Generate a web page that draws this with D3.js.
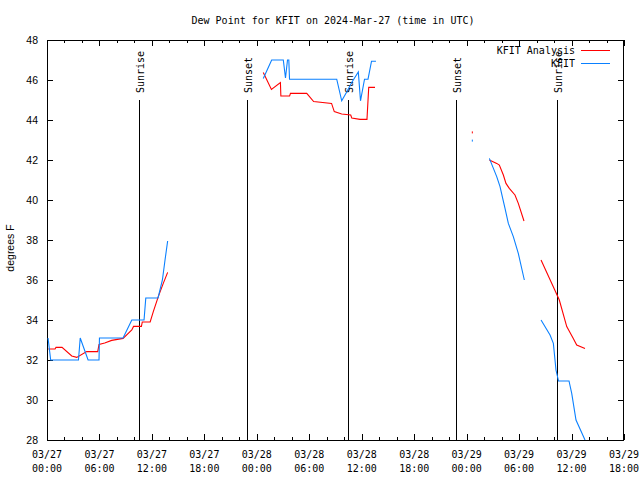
<!DOCTYPE html>
<html><head><meta charset="utf-8">
<script src="https://cdn.jsdelivr.net/npm/d3@7"></script>
<style>body{margin:0;background:#fff}</style>
</head><body>
<script>
// ---------- data ----------
const chartTitle = "Dew Point for KFIT on 2024-Mar-27 (time in UTC)";
const yAxisLabel = "degrees F";
const startUtc = Date.UTC(2024, 2, 27, 0, 0);
const spanHours = 66;
const yTicks = [28, 30, 32, 34, 36, 38, 40, 42, 44, 46, 48];
const xMajorHours = [0, 6, 12, 18, 24, 30, 36, 42, 48, 54, 60, 66];
const xMinorHours = d3.range(0, 67, 2);
const seriesNames = ["KFIT Analysis", "KFIT"];
const seriesColors = ["#ff0000", "#0a80ff"];
const sunLabels = ["Sunrise", "Sunset", "Sunrise", "Sunset", "Sunrise"];
const sunHours = [10.52, 22.9, 34.47, 46.8, 58.36];

// KFIT Analysis (hours after 03/27 00:00 UTC, dew point F); null = gap
const anaHours = [0.15, 0.92, 1.03, 1.72, 2.83, 3.40, 4.54, 5.80, 5.95, 6.6, 7.4, 8.7, 9.7, 9.9, 10.8, 10.9, 11.8, 12.16, 12.73, 13.3, 13.8,
  14.5,
  24.74, 25.67, 26.70, 26.75, 27.75, 27.85, 29.71, 30.5, 32.55, 32.86, 33.71, 34.74, 34.86, 35.8, 36.6, 36.8, 37.52,
  40,
  48.65,
  49.5,
  50.6, 51.44, 51.74, 52.2, 52.5, 52.88, 53.53, 53.91, 54.56,
  55.5,
  56.51, 58.03, 58.6, 59.45, 60.2, 60.59, 61.54];
const anaDew = [32.55, 32.55, 32.63, 32.63, 32.2, 32.13, 32.42, 32.42, 32.78, 32.85, 32.98, 33.08, 33.5, 33.68, 33.68, 33.9, 33.9, 34.42, 35.17, 35.83, 36.38,
  null,
  46.37, 45.53, 45.87, 45.2, 45.2, 45.33, 45.33, 44.92, 44.83, 44.42, 44.3, 44.25, 44.1, 44.03, 44.03, 45.63, 45.63,
  null,
  43.38,
  null,
  42.0, 41.83, 41.75, 41.25, 40.83, 40.58, 40.25, 39.83, 38.95,
  null,
  37.0, 35.55, 35.0, 33.67, 33.08, 32.75, 32.58];

// KFIT observations
const obsHours = [0.12, 0.42, 3.6, 3.8, 4.7, 5.95, 6.0, 8.7, 9.7, 11.1, 11.3, 12.7, 13.2, 13.5, 13.8,
  14.5,
  24.74, 25.70, 27.03, 27.28, 27.51, 27.66, 27.74, 33.14, 33.71, 34.28, 34.89, 35.61, 35.86, 36.32, 36.72, 37.12, 37.63,
  40,
  48.65,
  49.5,
  50.6, 51.44, 51.82, 52.08, 52.39, 52.77, 53.34, 53.91, 54.6,
  55.5,
  56.51, 57.54, 57.92, 58.22, 58.51, 59.71, 60.02, 60.51, 61.54];
const obsDew = [33.1, 32.0, 32.0, 33.1, 32.0, 32.0, 33.1, 33.1, 34.0, 34.0, 35.1, 35.1, 36.0, 37.0, 37.95,
  null,
  46.08, 47.0, 47.0, 46.1, 47.0, 47.0, 46.04, 46.04, 44.96, 45.4, 45.9, 46.4, 44.96, 46.04, 46.04, 46.94, 46.94,
  null,
  42.97,
  null,
  42.08, 41.17, 40.67, 40.17, 39.58, 38.83, 38.17, 37.33, 36.0,
  null,
  34.0, 33.25, 32.83, 31.5, 30.95, 30.95, 30.33, 29.0, 28.0];

// ---------- chart ----------
const W = 640, H = 480;
const M = {left: 47, right: 624, top: 40, bottom: 440};
const toDate = h => new Date(startUtc + h * 3600e3);
const x = d3.scaleUtc().domain([toDate(0), toDate(spanHours)]).range([M.left, M.right]);
const y = d3.scaleLinear().domain([28, 48]).range([M.bottom, M.top]);

const svg = d3.select("body").append("svg").attr("width", W).attr("height", H)
  .style("font-family", "'DejaVu Sans Mono', monospace").style("font-size", "10px");

svg.append("defs").append("clipPath").attr("id", "clip")
  .append("rect").attr("x", M.left).attr("y", M.top)
  .attr("width", M.right - M.left).attr("height", M.bottom - M.top);

// title
svg.append("text").attr("x", 333).attr("y", 24).attr("text-anchor", "middle").text(chartTitle);

// y label
svg.append("text").attr("transform", "translate(14,248) rotate(-90)")
  .attr("text-anchor", "middle")
  .style("font-family", "'Liberation Sans', Arial, sans-serif").style("font-size", "10.5px")
  .text(yAxisLabel);

function styleAxis(g) {
  g.select(".domain").remove();
  g.selectAll(".tick line").attr("stroke", "#000").attr("shape-rendering", "crispEdges");
}

// x ticks bottom/top, major & minor
const majorDates = xMajorHours.map(toDate);
const minorDates = xMinorHours.filter(h => !xMajorHours.includes(h)).map(toDate);
[[d3.axisBottom, M.bottom], [d3.axisTop, M.top]].forEach(([ax, ty]) => {
  svg.append("g").attr("transform", `translate(0,${ty})`)
    .call(ax(x).tickValues(majorDates).tickSize(-6).tickFormat(""))
    .call(styleAxis);
  svg.append("g").attr("transform", `translate(0,${ty})`)
    .call(ax(x).tickValues(minorDates).tickSize(-3).tickFormat(""))
    .call(styleAxis);
});

// y ticks
svg.append("g").attr("transform", `translate(${M.left},0)`)
  .call(d3.axisLeft(y).tickValues(yTicks).tickSize(-6).tickPadding(9))
  .call(styleAxis)
  .call(g => g.selectAll("text").attr("fill", "#000")
    .style("font-family", "'Liberation Sans', Arial, sans-serif").style("font-size", "10.5px"));
svg.append("g").attr("transform", `translate(${M.right},0)`)
  .call(d3.axisRight(y).tickValues(yTicks).tickSize(-6).tickFormat(""))
  .call(styleAxis);

// x tick labels (two lines)
const fDate = d3.utcFormat("%m/%d"), fTime = d3.utcFormat("%H:%M");
const xl = svg.append("g").attr("text-anchor", "middle");
majorDates.forEach(d => {
  const t = xl.append("text").attr("x", x(d));
  t.append("tspan").attr("x", x(d)).attr("y", 458).text(fDate(d));
  t.append("tspan").attr("x", x(d)).attr("y", 472).text(fTime(d));
});

// border
svg.append("rect").attr("x", M.left + 0.5).attr("y", M.top + 0.5)
  .attr("width", M.right - M.left - 1).attr("height", M.bottom - M.top)
  .attr("fill", "none").attr("stroke", "#000").attr("shape-rendering", "crispEdges");

// sunrise / sunset lines
sunHours.forEach((h, i) => {
  const sx = Math.round(x(toDate(h))) + 0.5;
  svg.append("line").attr("x1", sx).attr("x2", sx).attr("y1", 100).attr("y2", M.bottom)
    .attr("stroke", "#000").attr("shape-rendering", "crispEdges");
  svg.append("text").attr("transform", `translate(${sx + 4},93) rotate(-90)`)
    .attr("text-anchor", "start").text(sunLabels[i]);
});

// data
const series = [
  anaHours.map((h, i) => ({h, v: anaDew[i]})),
  obsHours.map((h, i) => ({h, v: obsDew[i]}))
];
const line = d3.line().defined(d => d.v !== null).x(d => x(toDate(d.h))).y(d => y(d.v));
const plot = svg.append("g").attr("clip-path", "url(#clip)");
series.forEach((s, si) => {
  plot.append("path").attr("d", line(s)).attr("fill", "none")
    .attr("stroke", seriesColors[si]).attr("stroke-width", 1.1);
  s.forEach((d, i) => {
    const prev = s[i - 1], next = s[i + 1];
    if (d.v !== null && (!prev || prev.v === null) && (!next || next.v === null)) {
      plot.append("rect").attr("x", x(toDate(d.h)) - 0.5).attr("y", y(d.v) - 1)
        .attr("width", 1).attr("height", 2).attr("fill", seriesColors[si]);
    }
  });
});

// legend
seriesNames.forEach((n, i) => {
  const ly = 50 + i * 13;
  svg.append("text").attr("x", 575).attr("y", ly + 3.5).attr("text-anchor", "end").text(n);
  svg.append("line").attr("x1", 581).attr("x2", 610).attr("y1", ly + 0.5).attr("y2", ly + 0.5)
    .attr("stroke", seriesColors[i]).attr("shape-rendering", "crispEdges");
});
</script>
</body></html>
